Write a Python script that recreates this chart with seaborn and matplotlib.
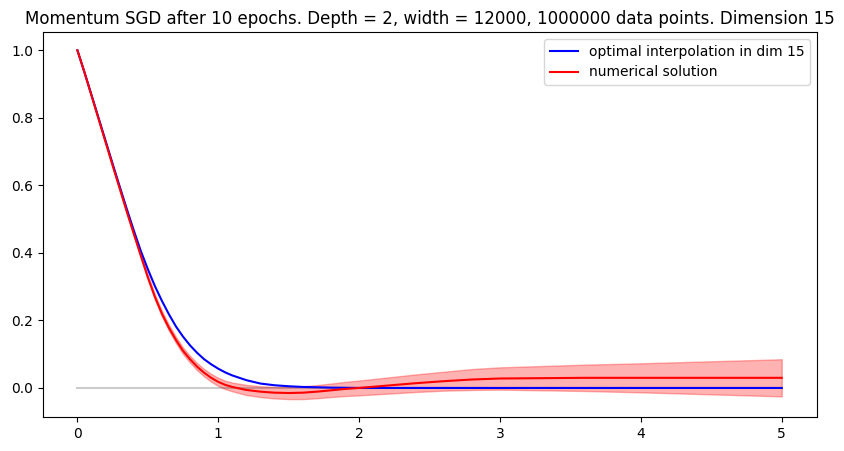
import matplotlib
matplotlib.use("Agg")
import matplotlib.pyplot as plt
import seaborn as sns
import numpy as np

# x grid
x_vals = [0.0, 0.05, 0.1, 0.15, 0.2, 0.25, 0.3, 0.35, 0.4, 0.45, 0.5, 0.55, 0.6, 0.65,
          0.7, 0.75, 0.8, 0.85, 0.9, 0.95, 1.0, 1.05, 1.1, 1.2, 1.3, 1.4, 1.5, 1.6,
          1.7, 1.8, 1.9, 2.0, 2.2, 2.4, 2.6, 2.8, 3.0, 3.3, 3.6, 4.0, 4.5, 5.0]

optimal_vals = [1.0, 0.935, 0.868, 0.8, 0.732, 0.664, 0.597, 0.531, 0.467, 0.406, 0.352,
                0.302, 0.258, 0.218, 0.182, 0.152, 0.126, 0.104, 0.085, 0.07, 0.057, 0.046,
                0.037, 0.023, 0.013, 0.008, 0.005, 0.003, 0.002, 0.001, 0.0005, 0.0,
                0.0, 0.0, 0.0, 0.0, 0.0, 0.0, 0.0, 0.0, 0.0, 0.0]

numerical_vals = [1.0, 0.935, 0.866, 0.797, 0.728, 0.659, 0.591, 0.523, 0.457, 0.392, 0.328,
                  0.27, 0.22, 0.178, 0.142, 0.11, 0.085, 0.063, 0.045, 0.03, 0.018, 0.009,
                  0.003, -0.006, -0.011, -0.014, -0.015, -0.014, -0.011, -0.007, -0.003,
                  0.0, 0.007, 0.014, 0.02, 0.025, 0.028, 0.029, 0.03, 0.03, 0.03, 0.03]

spread_vals = [0.0, 0.001, 0.0015, 0.002, 0.003, 0.004, 0.0045, 0.005, 0.006, 0.0065, 0.007,
               0.0075, 0.008, 0.0085, 0.009, 0.0095, 0.01, 0.0105, 0.011, 0.0115, 0.012, 0.0125,
               0.013, 0.015, 0.016, 0.017, 0.018, 0.019, 0.0195, 0.02, 0.021, 0.022,
               0.024, 0.026, 0.028, 0.031, 0.033, 0.036, 0.039, 0.043, 0.049, 0.055]

zero_x = [0.0, 5.0]
zero_y = [0.0, 0.0]

title = "Momentum SGD after 10 epochs. Depth = 2, width = 12000, 1000000 data points. Dimension 15"

x = np.array(x_vals)
num = np.array(numerical_vals)
spr = np.array(spread_vals)

fig = plt.figure(figsize=(8.44, 4.51), dpi=100)
ax = fig.add_axes([0.0506, 0.0754, 0.9174, 0.8536])

sns.lineplot(x=zero_x, y=zero_y, color="k", alpha=0.2, linewidth=1.5, ax=ax, legend=False)
ax.fill_between(x, num - spr, num + spr, color="red", alpha=0.3)
sns.lineplot(x=x_vals, y=optimal_vals, color="blue", linewidth=1.5, ax=ax,
             label="optimal interpolation in dim 15")
sns.lineplot(x=x_vals, y=numerical_vals, color="red", linewidth=1.5, ax=ax,
             label="numerical solution")

ax.set_xlim(-0.246, 5.25)
ax.set_ylim(-0.086, 1.054)
ax.set_xticks([0, 1, 2, 3, 4, 5])
ax.set_yticks([0.0, 0.2, 0.4, 0.6, 0.8, 1.0])
ax.set_title(title, fontsize=12)
ax.legend(loc="upper right")

fig.savefig("out.png", dpi=100)
